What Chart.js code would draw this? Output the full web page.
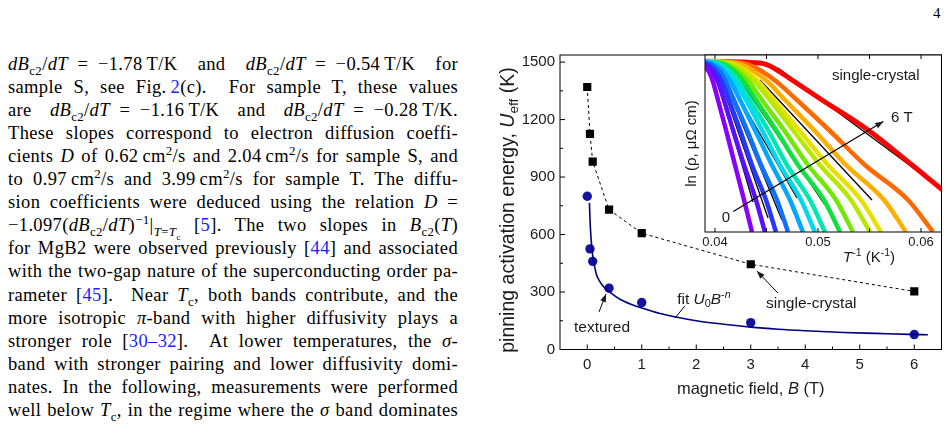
<!DOCTYPE html>
<html>
<head>
<meta charset="utf-8">
<script src="https://cdn.jsdelivr.net/npm/chart.js@4.4.1/dist/chart.umd.min.js"></script>
<style>
  html, body { margin: 0; padding: 0; background: #fff; }
  body { width: 949px; height: 427px; position: relative; overflow: hidden; }
  #text { position: absolute; left: 8px; top: 0; width: 450px;
    font-family: 'Liberation Serif', 'Times New Roman', serif; font-size: 18.5px; letter-spacing: 0.35px; color: #000; }
  #text .ln { position: absolute; left: 0; width: 450px; height: 23px; line-height: 23px;
    text-align: justify; text-align-last: justify; }
  .m { display: inline-block; }
  sub, sup { font-size: 0.7em; line-height: 0; }
  .ref { color: #1c1cff; }
  #pageno { position: absolute; left: 933px; top: 6px; font: 15px/15px 'Liberation Serif', serif; }
  canvas { position: absolute; }
</style>
</head>
<body>
<div id="pageno">4</div>
<div id="text">
  <div class="ln"><span class="m"><i>dB</i><sub>c2</sub>/<i>dT</i>&ensp;=&ensp;−1.78&thinsp;T/K</span> and <span class="m"><i>dB</i><sub>c2</sub>/<i>dT</i>&ensp;=&ensp;−0.54&thinsp;T/K</span> for</div>
  <div class="ln">sample S, see Fig.&thinsp;<span class="ref">2</span>(c). &nbsp;For sample T, these values</div>
  <div class="ln">are <span class="m"><i>dB</i><sub>c2</sub>/<i>dT</i>&ensp;=&ensp;−1.16&thinsp;T/K</span> and <span class="m"><i>dB</i><sub>c2</sub>/<i>dT</i>&ensp;=&ensp;−0.28&thinsp;T/K.</span></div>
  <div class="ln">These slopes correspond to electron diffusion coeffi-</div>
  <div class="ln">cients <i>D</i> of 0.62&thinsp;cm<sup>2</sup>/s and 2.04&thinsp;cm<sup>2</sup>/s for sample S, and</div>
  <div class="ln">to 0.97&thinsp;cm<sup>2</sup>/s and 3.99&thinsp;cm<sup>2</sup>/s for sample T. The diffu-</div>
  <div class="ln">sion coefficients were deduced using the relation <span class="m"><i>D</i>&ensp;=</span></div>
  <div class="ln"><span class="m">−1.097(<i>dB</i><sub>c2</sub>/<i>dT</i>)<sup>−1</sup>|<sub><i>T</i>=<i>T</i><sub>c</sub></sub></span> [<span class="ref">5</span>]. The two slopes in <span class="m"><i>B</i><sub>c2</sub>(<i>T</i>)</span></div>
  <div class="ln">for MgB2 were observed previously [<span class="ref">44</span>] and associated</div>
  <div class="ln">with the two-gap nature of the superconducting order pa-</div>
  <div class="ln">rameter [<span class="ref">45</span>]. &nbsp;Near <i>T</i><sub>c</sub>, both bands contribute, and the</div>
  <div class="ln">more isotropic <i>π</i>-band with higher diffusivity plays a</div>
  <div class="ln">stronger role [<span class="ref">30–32</span>]. &nbsp;At lower temperatures, the <i>σ</i>-</div>
  <div class="ln">band with stronger pairing and lower diffusivity domi-</div>
  <div class="ln">nates. In the following, measurements were performed</div>
  <div class="ln">well below <i>T</i><sub>c</sub>, in the regime where the <i>σ</i> band dominates</div>
</div>

<canvas id="mainChart" width="469" height="427" style="left:480px;top:0;width:469px;height:427px"></canvas>
<canvas id="insetChart" width="279" height="230" style="left:670px;top:40px;width:279px;height:230px"></canvas>

<script>
// main panel: pinning activation energy vs magnetic field
const fieldSingle = [0, 0.05, 0.1, 0.4, 1, 3, 6];
const energySingle = [1370, 1125, 980, 730, 607, 445, 303];
const fieldTextured = [0, 0.05, 0.1, 0.4, 1, 3, 6];
const energyTextured = [800, 525, 460, 320, 245, 140, 78];
// fit U0 B^-n
const fitField = [0.04, 0.05, 0.065, 0.08, 0.1, 0.13, 0.17, 0.22, 0.3, 0.42, 0.6, 0.8, 1.0, 1.3, 1.65, 2.0, 2.5, 3.0, 3.5, 4.0, 4.7, 5.3, 5.9, 6.25];
const fitEnergy = [765, 680, 600, 545, 490, 440, 390, 360, 328, 298, 262, 236, 217, 190, 168, 150, 132, 117, 106, 98, 89, 84, 79, 77];
const fieldTicks = [0, 1, 2, 3, 4, 5, 6];
const energyTicks = [0, 300, 600, 900, 1200, 1500];

// inset: ln(rho) vs 1/T, one curve per field (0 ... 6 T)
const insetLnRho = [3.42, 3.38, 3.32, 3.20, 3.00, 2.64, 2.04, 1.34, 0.64, 0.00];
const insetInvT = [
  [0.0375, 0.03835, 0.03883, 0.03942, 0.03981, 0.04029, 0.04107, 0.04194, 0.04282, 0.04359],
  [0.0375, 0.03864, 0.03922, 0.03981, 0.04029, 0.04087, 0.04175, 0.04282, 0.04398, 0.04485],
  [0.0375, 0.03893, 0.03951, 0.04010, 0.04068, 0.04136, 0.04243, 0.04359, 0.04495, 0.04592],
  [0.0375, 0.03922, 0.03981, 0.04049, 0.04107, 0.04184, 0.04311, 0.04447, 0.04602, 0.04709],
  [0.0375, 0.03951, 0.04019, 0.04087, 0.04155, 0.04243, 0.04388, 0.04553, 0.04728, 0.04854],
  [0.0375, 0.03981, 0.04049, 0.04126, 0.04194, 0.04301, 0.04456, 0.04631, 0.04835, 0.04971],
  [0.0375, 0.04010, 0.04078, 0.04155, 0.04233, 0.04340, 0.04515, 0.04699, 0.04922, 0.05068],
  [0.0375, 0.04039, 0.04117, 0.04194, 0.04282, 0.04398, 0.04592, 0.04806, 0.05058, 0.05214],
  [0.0375, 0.04078, 0.04146, 0.04233, 0.04330, 0.04456, 0.04670, 0.04903, 0.05175, 0.05340],
  [0.0375, 0.04117, 0.04194, 0.04282, 0.04388, 0.04534, 0.04757, 0.05019, 0.05320, 0.05505],
  [0.0375, 0.04136, 0.04223, 0.04320, 0.04427, 0.04573, 0.04816, 0.05097, 0.05418, 0.05612],
  [0.0375, 0.04194, 0.04291, 0.04388, 0.04515, 0.04680, 0.04961, 0.05272, 0.05641, 0.05854],
  [0.0375, 0.04262, 0.04359, 0.04466, 0.04602, 0.04796, 0.05107, 0.05456, 0.05874, 0.06117],
  [0.0375, 0.04437, 0.04534, 0.04631, 0.04777, 0.05039, 0.05485, 0.05913, 0.06330, 0.06748]
];
// straight fits drawn over the activated part of the curves
const lineFitInvT = [
  [0.04029, 0.04369], [0.04068, 0.04515], [0.04117, 0.04650], [0.04175, 0.04796],
  [0.04262, 0.05068], [0.04437, 0.05524], [0.04612, 0.05952]
];
const lineFitLnRho = [
  [2.98, 0.60], [2.94, 0.28], [2.90, 0.24], [2.90, 0.68],
  [2.98, 0.54], [3.04, 0.64], [3.28, 1.24]
];
const insetTicks = [0.04, 0.05, 0.06];

// place the justified text lines (baseline pitch ~23 px)
document.querySelectorAll('#text .ln').forEach((el, i) => { el.style.top = (53 + i * 23.05) + 'px'; });

const SANS = "'Liberation Sans', Arial, sans-serif";
const INK = '#1a1a1a';
Chart.defaults.font.family = SANS;
Chart.defaults.color = INK;

function pairs(xs, ys){ return xs.map((x, i) => ({ x, y: ys[i] })); }

function drawRich(ctx, parts, x, y, size, align){
  const fonts = parts.map(([t, s]) => {
    const small = s.includes('sub') || s.includes('sup');
    return (s.startsWith('i') ? 'italic ' : '') + (small ? size * 0.7 : size) + 'px ' + SANS;
  });
  let w = 0;
  parts.forEach((p, i) => { ctx.font = fonts[i]; w += ctx.measureText(p[0]).width; });
  let cx = align === 'center' ? x - w / 2 : x;
  ctx.textAlign = 'left';
  ctx.textBaseline = 'alphabetic';
  parts.forEach(([t, s], i) => {
    ctx.font = fonts[i];
    const dy = s.includes('sub') ? size * 0.22 : (s.includes('sup') ? -size * 0.38 : 0);
    ctx.fillText(t, cx, y + dy);
    cx += ctx.measureText(t).width;
  });
}

function arrow(ctx, x1, y1, x2, y2, head){
  ctx.beginPath(); ctx.moveTo(x1, y1); ctx.lineTo(x2, y2); ctx.stroke();
  if(!head) return;
  const a = Math.atan2(y2 - y1, x2 - x1), L = 8, W = 3;
  ctx.beginPath();
  ctx.moveTo(x2, y2);
  ctx.lineTo(x2 - L*Math.cos(a) + W*Math.sin(a), y2 - L*Math.sin(a) - W*Math.cos(a));
  ctx.lineTo(x2 - L*Math.cos(a) - W*Math.sin(a), y2 - L*Math.sin(a) + W*Math.cos(a));
  ctx.closePath(); ctx.fill();
}

// frame box + inward ticks (major and half-step minor)
function frameTicks(chart, xMajor, yMajor, opt){
  const { ctx, chartArea: a, scales: { x, y } } = chart;
  ctx.save();
  ctx.strokeStyle = '#000'; ctx.lineWidth = 1;
  ctx.strokeRect(a.left, a.top, a.right - a.left, a.bottom - a.top);
  const xs = [];
  xMajor.forEach((v, i) => { xs.push([v, opt.maj]); if(i < xMajor.length - 1) xs.push([(v + xMajor[i+1]) / 2, opt.min]); });
  ctx.beginPath();
  xs.forEach(([v, len]) => {
    const p = x.getPixelForValue(v);
    if(p < a.left || p > a.right) return;
    ctx.moveTo(p, a.bottom); ctx.lineTo(p, a.bottom - len);
    if(opt.top){ ctx.moveTo(p, a.top); ctx.lineTo(p, a.top + len); }
  });
  if(yMajor){
    yMajor.forEach((v, i) => {
      const list = [[v, opt.maj]];
      if(i < yMajor.length - 1) list.push([(v + yMajor[i+1]) / 2, opt.min]);
      list.forEach(([vv, len]) => {
        const p = y.getPixelForValue(vv);
        ctx.moveTo(a.left, p); ctx.lineTo(a.left + len, p);
      });
    });
  }
  ctx.stroke();
  ctx.restore();
}

const mainDecor = {
  id: 'mainDecor',
  afterDatasetsDraw(chart){
    const { ctx, chartArea: a, scales: { x, y } } = chart;
    frameTicks(chart, fieldTicks, energyTicks, { maj: 5, min: 3 });
    ctx.save();
    ctx.fillStyle = INK; ctx.strokeStyle = '#000'; ctx.lineWidth = 1;
    // axis titles
    drawRich(ctx, [['magnetic field, ', ''], ['B', 'i'], [' (T)', '']], (a.left + a.right) / 2, 394, 16.5, 'center');
    ctx.save();
    ctx.translate(34, 210);
    ctx.rotate(-Math.PI / 2);
    drawRich(ctx, [['pinning activation energy, ', ''], ['U', 'i'], ['eff', 'sub'], [' (K)', '']], 0, 0, 19.5, 'center');
    ctx.restore();
    // labels and arrows
    drawRich(ctx, [['fit ', ''], ['U', 'i'], ['0', 'sub'], ['B', 'i'], ['-', 'sup'], ['n', 'isup']], x.getPixelForValue(1.65), y.getPixelForValue(237), 15.5);
    arrow(ctx, x.getPixelForValue(1.79), y.getPixelForValue(227), x.getPixelForValue(1.61), y.getPixelForValue(164), false);
    drawRich(ctx, [['textured', '']], x.getPixelForValue(-0.243), y.getPixelForValue(89), 15.5);
    arrow(ctx, x.getPixelForValue(0.216), y.getPixelForValue(196), x.getPixelForValue(0.345), y.getPixelForValue(290), true);
    drawRich(ctx, [['single-crystal', '']], x.getPixelForValue(3.28), y.getPixelForValue(216), 15.5);
    arrow(ctx, x.getPixelForValue(3.497), y.getPixelForValue(295), x.getPixelForValue(3.112), y.getPixelForValue(410), true);
    ctx.restore();
  }
};

new Chart(document.getElementById('mainChart'), {
  type: 'scatter',
  data: {
    datasets: [
      {
        label: 'fit',
        data: pairs(fitField, fitEnergy),
        showLine: true,
        borderColor: '#00007f',
        borderWidth: 1.6,
        pointRadius: 0,
        cubicInterpolationMode: 'monotone'
      },
      {
        label: 'textured',
        data: pairs(fieldTextured, energyTextured),
        pointStyle: 'circle',
        pointRadius: 4.7,
        pointBackgroundColor: '#1414a0',
        pointBorderWidth: 0
      },
      {
        label: 'single-crystal',
        data: pairs(fieldSingle, energySingle),
        showLine: true,
        borderColor: '#000',
        borderWidth: 1,
        borderDash: [3, 3],
        pointStyle: 'rect',
        pointRadius: 5.8,
        pointBackgroundColor: '#000',
        pointBorderWidth: 0
      }
    ]
  },
  options: {
    responsive: false,
    animation: false,
    layout: { padding: { left: 0, top: 55, right: 7.5, bottom: 0 } },
    plugins: { legend: { display: false }, tooltip: { enabled: false } },
    scales: {
      x: {
        type: 'linear', min: -0.5, max: 6.5,
        afterBuildTicks: s => { s.ticks = fieldTicks.map(v => ({ value: v })); },
        afterFit: s => { s.height = 77.5; },
        grid: { display: false, drawTicks: false },
        border: { display: false },
        ticks: { font: { size: 15 }, color: INK, padding: 6, maxRotation: 0, autoSkip: false,
          callback: v => String(v) }
      },
      y: {
        type: 'linear', min: 0, max: 1537,
        afterBuildTicks: s => { s.ticks = energyTicks.map(v => ({ value: v })); },
        afterFit: s => { s.width = 80; },
        grid: { display: false, drawTicks: false },
        border: { display: false },
        ticks: { font: { size: 15 }, color: INK, padding: 5, autoSkip: false,
          callback: v => String(v) }
      }
    }
  },
  plugins: [mainDecor]
});

// inset
const insetColors = ['#8a00ff', '#5a10ff', '#2438ff', '#1070ff', '#00a8ff', '#00d8f0', '#00e8b0',
  '#10e040', '#70e800', '#b8e800', '#e8e000', '#ffae00', '#ff6a00', '#ff0000'];

const insetDecor = {
  id: 'insetDecor',
  beforeDatasetsDraw(chart){
    const { ctx, chartArea: a } = chart;
    ctx.save(); ctx.fillStyle = '#fff';
    ctx.fillRect(a.left, a.top, a.right - a.left, a.bottom - a.top);
    ctx.restore();
  },
  afterDatasetsDraw(chart){
    const { ctx, chartArea: a, scales: { x, y } } = chart;
    frameTicks(chart, insetTicks, null, { maj: 4, min: 4, top: true });
    ctx.save();
    ctx.fillStyle = INK; ctx.strokeStyle = '#000'; ctx.lineWidth = 1.2;
    drawRich(ctx, [['T', 'i'], ['-1', 'sup'], [' (K', ''], ['-1', 'sup'], [')', '']], 199, 222, 15, 'center');
    ctx.save();
    ctx.translate(26, (a.top + a.bottom) / 2);
    ctx.rotate(-Math.PI / 2);
    drawRich(ctx, [['ln (ρ, μΩ cm)', '']], 0, 0, 15, 'center');
    ctx.restore();
    drawRich(ctx, [['single-crystal', '']], x.getPixelForValue(0.05136), y.getPixelForValue(3.04), 15);
    drawRich(ctx, [['6 T', '']], x.getPixelForValue(0.05709), y.getPixelForValue(2.21), 15);
    drawRich(ctx, [['0', '']], x.getPixelForValue(0.04065), y.getPixelForValue(0.21), 15);
    arrow(ctx, x.getPixelForValue(0.04178), y.getPixelForValue(0.41), x.getPixelForValue(0.05634), y.getPixelForValue(2.21), true);
    ctx.restore();
  }
};

const insetSets = insetInvT.map((xs, i) => ({
  data: pairs(xs, insetLnRho),
  showLine: true,
  borderColor: insetColors[i],
  borderWidth: i === insetInvT.length - 1 ? 5 : 4.5,
  pointRadius: 0,
  cubicInterpolationMode: 'monotone',
  clip: 0
}));
lineFitInvT.forEach((xs, i) => insetSets.push({
  data: pairs(xs, lineFitLnRho[i]),
  showLine: true,
  borderColor: '#000',
  borderWidth: 1.3,
  pointRadius: 0,
  clip: 0
}));

new Chart(document.getElementById('insetChart'), {
  type: 'scatter',
  data: { datasets: insetSets },
  options: {
    responsive: false,
    animation: false,
    layout: { padding: { left: 0, top: 15, right: 7.5, bottom: 0 } },
    plugins: { legend: { display: false }, tooltip: { enabled: false } },
    scales: {
      x: {
        type: 'linear', min: 0.03903, max: 0.06199,
        afterBuildTicks: s => { s.ticks = insetTicks.map(v => ({ value: v })); },
        afterFit: s => { s.height = 38; },
        grid: { display: false, drawTicks: false },
        border: { display: false },
        ticks: { font: { size: 13 }, color: INK, padding: 3, maxRotation: 0, autoSkip: false,
          callback: v => v.toFixed(2) }
      },
      y: {
        type: 'linear', min: 0, max: 3.54,
        afterFit: s => { s.width = 35; },
        grid: { display: false, drawTicks: false },
        border: { display: false },
        ticks: { display: false }
      }
    }
  },
  plugins: [insetDecor]
});
</script>
</body>
</html>
